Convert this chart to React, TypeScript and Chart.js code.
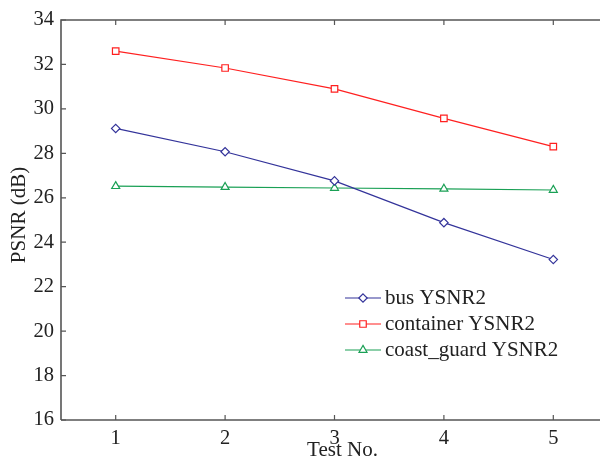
import React, { useEffect, useRef } from "react";
import { Chart, registerables } from "chart.js";

Chart.register(...registerables);

const testNos = [1, 2, 3, 4, 5];
const busYSNR2 = [29.12, 28.07, 26.76, 24.88, 23.22];
const containerYSNR2 = [32.6, 31.84, 30.9, 29.57, 28.3];
const coastGuardYSNR2 = [26.52, 26.48, 26.44, 26.4, 26.35];
const seriesNames = ["bus YSNR2", "container YSNR2", "coast_guard YSNR2"];
const yTicks = [16, 18, 20, 22, 24, 26, 28, 30, 32, 34];
const xTitle = "Test No.";
const yTitle = "PSNR (dB)";

const FONT = "'Liberation Serif', 'DejaVu Serif', serif";
const AXIS = "#555555";

export default function App() {
  const ref = useRef<HTMLCanvasElement | null>(null);
  useEffect(() => {
    if (!ref.current) return;
    const colors = ["#33339a", "#ff2020", "#1aa055"];
    const styles = ["rectRot", "rect", "triangle"];
    const radii = [4.2, 4.6, 4.6];
    const sets = [busYSNR2, containerYSNR2, coastGuardYSNR2];

    function drawMarker(ctx: any, style: string, r: number, x: number, y: number, color: string) {
      ctx.save();
      ctx.strokeStyle = color;
      ctx.lineWidth = 1.2;
      ctx.fillStyle = "#fff";
      ctx.beginPath();
      if (style === "rectRot") {
        ctx.moveTo(x, y - r);
        ctx.lineTo(x + r, y);
        ctx.lineTo(x, y + r);
        ctx.lineTo(x - r, y);
        ctx.closePath();
      } else if (style === "rect") {
        const s = Math.SQRT1_2 * r;
        ctx.rect(x - s, y - s, 2 * s, 2 * s);
      } else {
        ctx.moveTo(x, y - r);
        ctx.lineTo(x + r * 0.866, y + r * 0.5);
        ctx.lineTo(x - r * 0.866, y + r * 0.5);
        ctx.closePath();
      }
      ctx.fill();
      ctx.stroke();
      ctx.restore();
    }

    const decor = {
      id: "decor",
      afterDraw(chart: any) {
        const ctx = chart.ctx;
        const a = chart.chartArea;
        const xs = chart.scales.x;
        const ys = chart.scales.y;
        ctx.save();
        ctx.strokeStyle = AXIS;
        ctx.lineWidth = 1.6;
        ctx.beginPath();
        ctx.moveTo(a.left, a.bottom);
        ctx.lineTo(a.left, a.top);
        ctx.lineTo(a.right, a.top);
        ctx.lineTo(a.right, a.bottom);
        ctx.lineTo(a.left, a.bottom);
        ctx.stroke();
        ctx.lineWidth = 1.2;
        ctx.beginPath();
        for (const t of testNos) {
          const px = xs.getPixelForValue(t);
          ctx.moveTo(px, a.bottom);
          ctx.lineTo(px, a.bottom - 5);
          ctx.moveTo(px, a.top);
          ctx.lineTo(px, a.top + 5);
        }
        for (const t of yTicks) {
          const py = ys.getPixelForValue(t);
          ctx.moveTo(a.left, py);
          ctx.lineTo(a.left + 5, py);
          ctx.moveTo(a.right, py);
          ctx.lineTo(a.right - 5, py);
        }
        ctx.stroke();

        ctx.fillStyle = "#222";
        ctx.font = "21px " + FONT;
        ctx.textAlign = "center";
        ctx.textBaseline = "middle";
        ctx.fillText(xTitle, 342.5, 450);
        ctx.save();
        ctx.translate(19, 215);
        ctx.rotate(-Math.PI / 2);
        ctx.fillText(yTitle, 0, 0);
        ctx.restore();

        ctx.font = "21px " + FONT;
        ctx.textAlign = "left";
        chart.data.datasets.forEach((ds: any, i: number) => {
          const y = 298 + i * 26;
          ctx.strokeStyle = ds.borderColor;
          ctx.lineWidth = 1.2;
          ctx.beginPath();
          ctx.moveTo(345, y);
          ctx.lineTo(381, y);
          ctx.stroke();
          drawMarker(ctx, ds.pointStyle, ds.pointRadius, 363, y, ds.borderColor);
          ctx.fillStyle = "#222";
          ctx.fillText(ds.label, 385, y);
        });
        ctx.restore();
      },
    };

    const chart = new Chart(ref.current, {
      type: "line",
      data: {
        datasets: sets.map((d, i) => ({
          label: seriesNames[i],
          data: testNos.map((x, j) => ({ x, y: d[j] })),
          borderColor: colors[i],
          backgroundColor: "#ffffff",
          borderWidth: 1.2,
          pointStyle: styles[i],
          pointRadius: radii[i],
          pointBorderWidth: 1.2,
          pointBackgroundColor: "#ffffff",
          pointBorderColor: colors[i],
          tension: 0,
        })),
      },
      options: {
        responsive: false,
        animation: false,
        layout: { padding: { top: 20, right: 32, left: 0, bottom: 0 } },
        plugins: { legend: { display: false }, tooltip: { enabled: false } },
        scales: {
          x: {
            type: "linear",
            min: 0.5,
            max: 5.5,
            grid: { display: false, drawTicks: false },
            border: { display: false },
            afterBuildTicks: (s: any) => {
              s.ticks = testNos.map((v) => ({ value: v }));
            },
            afterFit: (s: any) => {
              s.height = 39;
            },
            ticks: {
              padding: 6,
              color: "#222",
              font: { family: FONT, size: 20.5 },
              maxRotation: 0,
            },
          },
          y: {
            min: 16,
            max: 34,
            grid: { display: false, drawTicks: false },
            border: { display: false },
            afterBuildTicks: (s: any) => {
              s.ticks = yTicks.map((v) => ({ value: v }));
            },
            afterFit: (s: any) => {
              s.width = 61;
            },
            ticks: {
              padding: 7,
              color: "#222",
              font: { family: FONT, size: 20.5 },
            },
          },
        },
      },
      plugins: [decor],
    } as any);
    return () => chart.destroy();
  }, []);

  return (
    <div
      style={{
        position: "absolute",
        left: 0,
        top: 0,
        width: 600,
        height: 459,
        overflow: "hidden",
        background: "#fff",
      }}
    >
      <canvas ref={ref} width={640} height={459} style={{ width: 640, height: 459, display: "block" }} />
    </div>
  );
}
